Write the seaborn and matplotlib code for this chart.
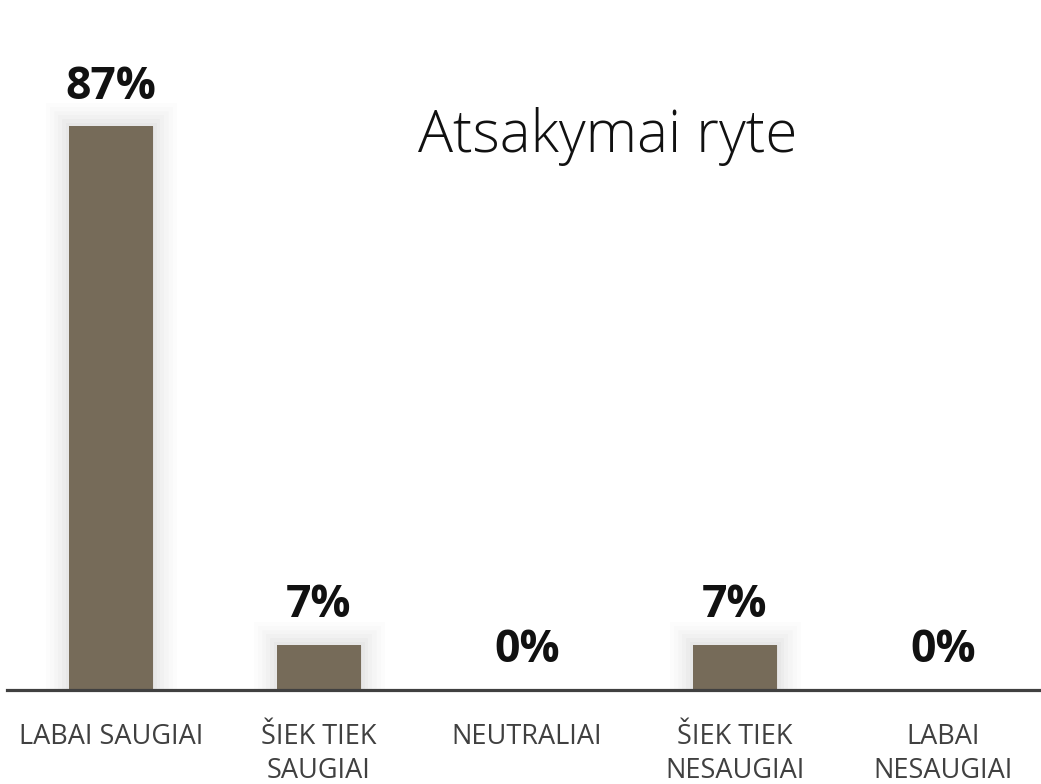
import matplotlib
matplotlib.use("Agg")
import matplotlib.pyplot as plt
import matplotlib.patheffects as pe
import seaborn as sns
import pandas as pd

categories = ["LABAI SAUGIAI", "ŠIEK TIEK\nSAUGIAI", "NEUTRALIAI",
              "ŠIEK TIEK\nNESAUGIAI", "LABAI\nNESAUGIAI"]
shares = [87, 7, 0, 7, 0]
title = "Atsakymai ryte"

df = pd.DataFrame({"category": categories, "share": shares})

sns.set_theme(style="white")
plt.rcParams["font.family"] = ["Open Sans", "DejaVu Sans"]

W, H = 1041, 784
fig = plt.figure(figsize=(W / 100, H / 100), dpi=100)
ax = fig.add_axes([7 / W, (H - 690) / H, 1040 / W, 648 / H])

bar_color = "#766b59"
sns.barplot(data=df, x="category", y="share", color=bar_color, width=0.4,
            saturation=1, ax=ax, zorder=3)

# soft glow around each non-empty bar
glow = [pe.Stroke(linewidth=lw, foreground="#000000", alpha=a, joinstyle="miter")
        for lw, a in [(34, 0.010), (28, 0.012), (22, 0.014), (16, 0.016),
                      (10, 0.018), (5, 0.020)]]
for patch in ax.patches:
    patch.set_linewidth(0)
    if patch.get_height() > 0:
        patch.set_edgecolor(bar_color)
        patch.set_path_effects(glow + [pe.Normal()])

for patch, v in zip(ax.patches, shares):
    ax.annotate(f"{v:.0f}%", (patch.get_x() + patch.get_width() / 2, patch.get_height()),
                xytext=(0, 12), textcoords="offset points", ha="center", va="bottom",
                fontsize=32, fontweight="bold", color="#111111", annotation_clip=False)

ax.set_xlim(-0.5, 4.5)
ax.set_ylim(0, 100)
ax.set_xlabel("")
ax.set_ylabel("")
ax.set_yticks([])
ax.tick_params(axis="x", length=0, pad=24, labelsize=19.5, labelcolor="#404040")
for lbl in ax.get_xticklabels():
    lbl.set_linespacing(1.25)

for s in ["top", "left", "right"]:
    ax.spines[s].set_visible(False)
ax.spines["bottom"].set_color("#404040")
ax.spines["bottom"].set_linewidth(2.3)
ax.spines["bottom"].set_zorder(5)

fig.text(608 / W, 1 - 136 / H, title, ha="center", va="center", fontsize=42,
         fontweight="light", color="#111111")

fig.savefig("out.png", dpi=100, facecolor="white")
